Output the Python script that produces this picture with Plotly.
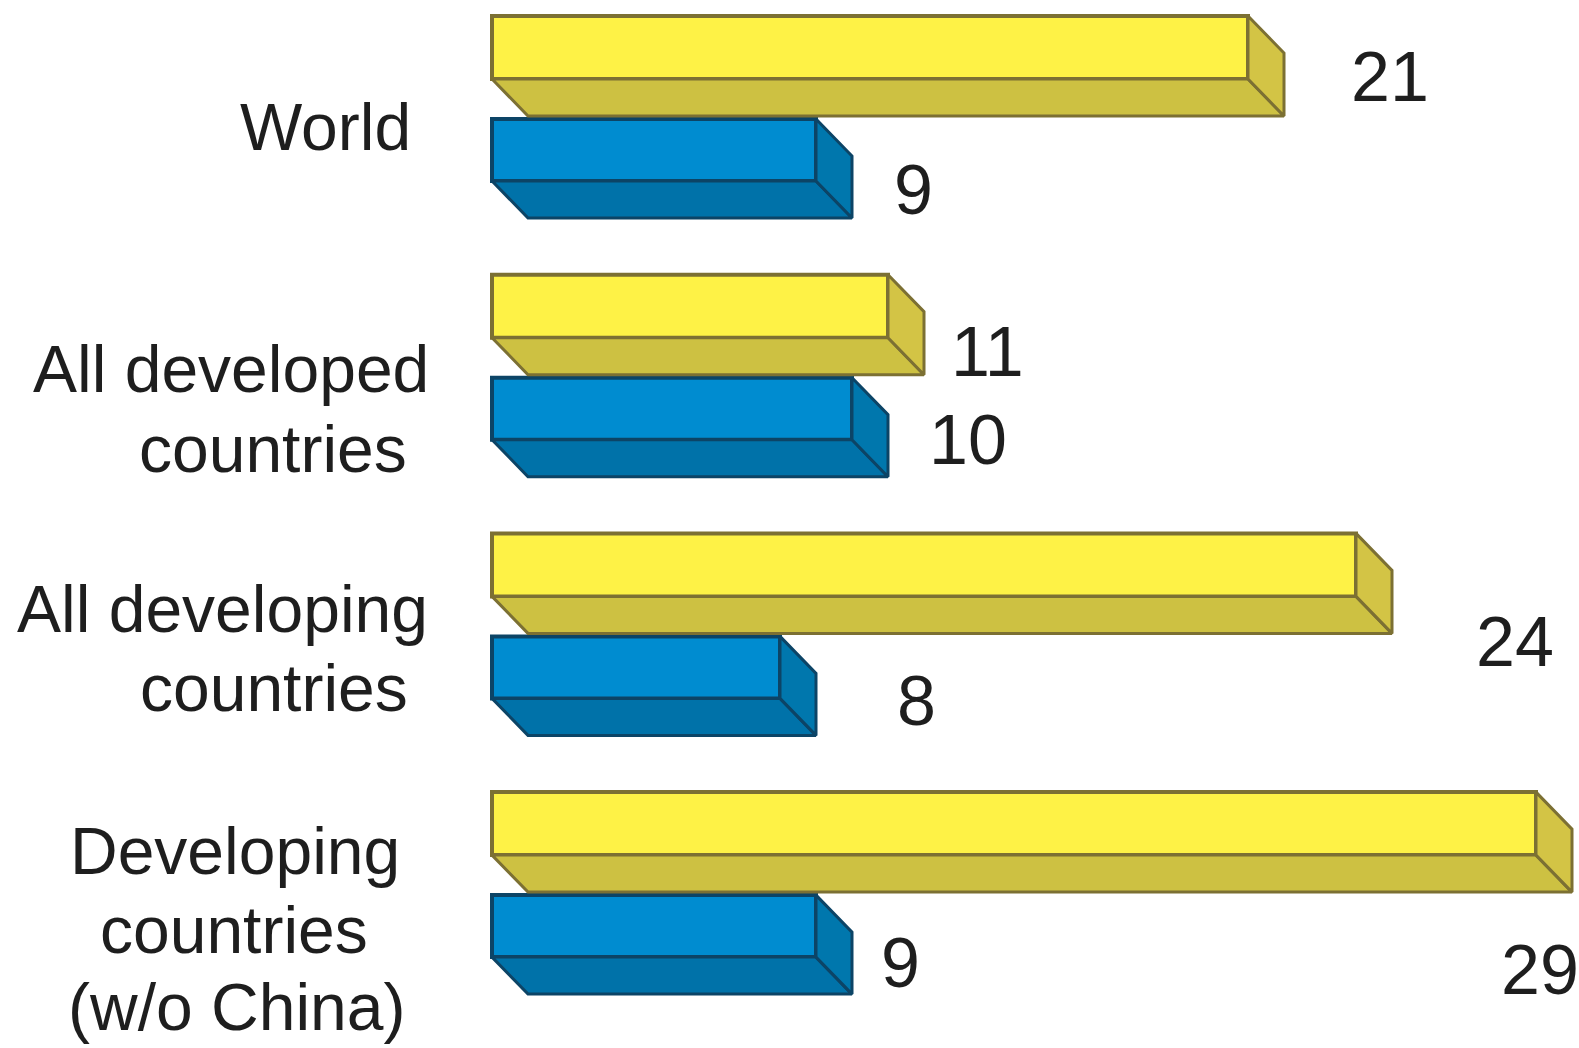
import plotly.graph_objects as go

# ---- data -------------------------------------------------------------
categories = [
    "World",
    "All developed countries",
    "All developing countries",
    "Developing countries (w/o China)",
]
category_lines = [
    ["World"],
    ["All developed", "countries"],
    ["All developing", "countries"],
    ["Developing", "countries", "(w/o China)"],
]
upper_values = [21, 11, 24, 29]   # yellow bars
lower_values = [9, 10, 8, 9]      # blue bars

# ---- layout (pixels) ----------------------------------------------------
W, H = 1579, 1048
PX_PER_UNIT = 36.0        # horizontal scale
X0_PX = 492               # pixel of value 0
GROUP_PX = 258.7          # distance between category groups
CENTER0_PX = 117          # pixel centre of first group
DEPTH_PX = 37             # vertical extrusion of the 3-D bars
DEPTH_X = 36.0 / PX_PER_UNIT  # horizontal extrusion, value units

BAR_FONT = "Liberation Sans, Arial, sans-serif"
TEXT_COLOR = "#1e1e1e"
CAT_FONT_SIZE = 66
VAL_FONT_SIZE = 70

# bar slots inside a group: (top offset px, front height px)
UPPER_SLOT = (-101, 63)
LOWER_SLOT = (2, 62)

STYLES = {
    "upper": dict(front="#FEF246", bottom="#CDC142", side="#D3C445", edge="#7C7033"),
    "lower": dict(front="#008CD0", bottom="#0072A9", side="#0077AD", edge="#0C4466"),
}

# category label placement: (centre x px, baseline px) per line
category_label_pos = [
    [(325, 150)],
    [(231, 392), (273, 472)],
    [(223, 632), (274, 711)],
    [(235, 874), (234, 953), (236, 1030)],
]
# value label nudges: (dx from bar end px, dy from group centre px)
upper_label_offsets = [(142, -40), (99, -24), (159, 8), (4, 77)]
lower_label_offsets = [(97, 73), (116, 64), (136, 67), (84, 70)]


def to_units(px):
    return px / GROUP_PX


fig = go.Figure()
positions = list(range(len(categories)))


def add_series(values, slot, style):
    top, height = slot
    # front faces as real horizontal bars
    fig.add_trace(go.Bar(
        x=values, y=positions, orientation="h",
        width=to_units(height), offset=to_units(top),
        marker=dict(color=style["front"], line=dict(color=style["edge"], width=4)),
        hoverinfo="skip", showlegend=False,
    ))
    dy = to_units(DEPTH_PX)
    bx, by, sx, sy = [], [], [], []
    for i, v in zip(positions, values):
        yt = i + to_units(top)
        yb = i + to_units(top + height)
        # underside of the extruded bar
        bx += [0, v, v + DEPTH_X, DEPTH_X, 0, None]
        by += [yb, yb, yb + dy, yb + dy, yb, None]
        # end face of the extruded bar
        sx += [v, v + DEPTH_X, v + DEPTH_X, v, v, None]
        sy += [yt, yt + dy, yb + dy, yb, yt, None]
    for xs, ys, col in ((bx, by, style["bottom"]), (sx, sy, style["side"])):
        fig.add_trace(go.Scatter(
            x=xs, y=ys, mode="lines", fill="toself", fillcolor=col,
            line=dict(color=style["edge"], width=3),
            hoverinfo="skip", showlegend=False,
        ))


add_series(upper_values, UPPER_SLOT, STYLES["upper"])
add_series(lower_values, LOWER_SLOT, STYLES["lower"])

annotations = []
# category labels on the left
for lines, places in zip(category_lines, category_label_pos):
    for text, (cx, base) in zip(lines, places):
        annotations.append(dict(
            text=text, xref="paper", yref="paper",
            x=cx / W, y=1 - (base - 0.347 * CAT_FONT_SIZE) / H,
            xanchor="center", yanchor="middle", showarrow=False,
            font=dict(family=BAR_FONT, size=CAT_FONT_SIZE, color=TEXT_COLOR),
        ))

# value labels next to the bar ends
for values, offsets in ((upper_values, upper_label_offsets), (lower_values, lower_label_offsets)):
    for i, v, (dx, dyp) in zip(positions, values, offsets):
        annotations.append(dict(
            text=str(v), xref="x", yref="y", x=v, y=i,
            xshift=dx, yshift=-dyp,
            xanchor="center", yanchor="middle", showarrow=False,
            font=dict(family=BAR_FONT, size=VAL_FONT_SIZE, color=TEXT_COLOR),
        ))

fig.update_layout(
    width=W, height=H,
    margin=dict(l=0, r=0, t=0, b=0),
    paper_bgcolor="white", plot_bgcolor="white",
    barmode="overlay",
    showlegend=False,
    annotations=annotations,
    xaxis=dict(
        range=[-X0_PX / PX_PER_UNIT, (W - X0_PX) / PX_PER_UNIT],
        visible=False, fixedrange=True,
    ),
    yaxis=dict(
        range=[(H - CENTER0_PX) / GROUP_PX, -CENTER0_PX / GROUP_PX],
        visible=False, fixedrange=True,
    ),
)

fig.write_html("out.html")
